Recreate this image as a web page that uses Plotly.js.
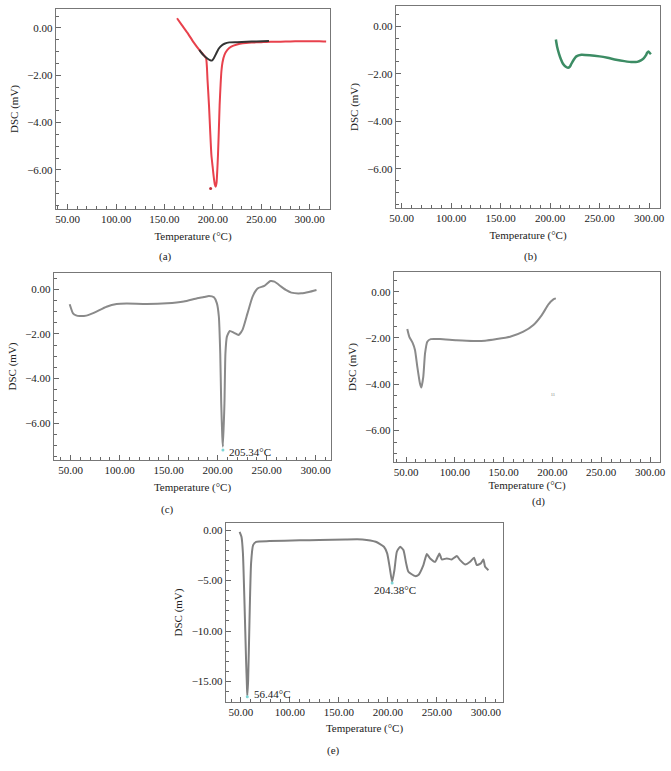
<!DOCTYPE html>
<html>
<head>
<meta charset="utf-8">
<script src="https://cdn.plot.ly/plotly-3.0.1.min.js"></script>
<style>
  html, body { margin: 0; padding: 0; background: #fff; }
  #dsc { width: 671px; height: 771px; }
</style>
</head>
<body>
<div id="dsc"></div>
<script>
// (a) two runs, red and black
const aRedT = [163, 168, 174, 180, 186, 190, 193, 194.5, 196, 197.3, 198.5, 200, 201.1, 202, 202.9, 203.8, 204.6, 205.3, 206.2, 207, 208, 208.8, 210, 212, 215, 219, 225, 231, 240, 250, 260, 270, 280, 290, 300, 310, 317];
const aRedV = [0.41, 0.12, -0.22, -0.6, -0.93, -1.12, -1.28, -2.2, -3.26, -4.4, -5.37, -5.95, -6.36, -6.6, -6.71, -6.55, -6.0, -5.37, -4.3, -3.26, -2.4, -1.85, -1.45, -1.14, -0.93, -0.79, -0.7, -0.65, -0.62, -0.6, -0.58, -0.58, -0.57, -0.56, -0.56, -0.56, -0.57];
const aBlkT = [186, 190, 194, 197, 199, 201, 203.6, 206, 208.8, 212, 217, 225, 235, 245, 258];
const aBlkV = [-0.93, -1.14, -1.28, -1.36, -1.38, -1.28, -1.07, -0.88, -0.75, -0.67, -0.61, -0.6, -0.58, -0.57, -0.55];
const aDotT = [197.7];
const aDotV = [-6.78];

// (b)
const bT = [205.8, 207, 209, 211, 213, 215.5, 218, 220, 221.5, 224, 226.5, 231.5, 240, 250, 258, 266.6, 275, 283.3, 288, 291.7, 294.5, 296.7, 298, 299.4, 300.5, 301.8];
const bV = [-0.56, -0.85, -1.16, -1.4, -1.58, -1.7, -1.75, -1.7, -1.58, -1.4, -1.27, -1.2, -1.22, -1.27, -1.33, -1.41, -1.47, -1.51, -1.5, -1.44, -1.35, -1.23, -1.12, -1.06, -1.12, -1.18];

// (c)
const cT = [49, 52.4, 55.5, 59.2, 66, 71, 76.3, 86.6, 96.9, 107.1, 127.7, 148.3, 165.4, 179.1, 186, 191.1, 196.2, 199.2, 201.2, 202.6, 203.6, 204.7, 205.34, 206.9, 207.9, 209.4, 212.3, 216.7, 221.2, 225.3, 230.4, 235.6, 240.7, 247.6, 253.8, 257.9, 264.8, 270, 275.1, 285.4, 293, 300.8];
const cV = [-0.67, -1.08, -1.17, -1.2, -1.18, -1.1, -1.0, -0.78, -0.66, -0.64, -0.66, -0.63, -0.55, -0.4, -0.35, -0.3, -0.36, -0.63, -1.23, -2.87, -5.11, -6.61, -7.06, -5.11, -2.87, -2.12, -1.87, -1.95, -2.05, -1.82, -1.08, -0.33, 0.04, 0.15, 0.37, 0.34, 0.12, -0.04, -0.15, -0.18, -0.12, -0.03];
const cPeakT = [205.34];
const cPeakV = [-7.2];

// (d)
const dT = [51.3, 53.4, 56.8, 59.2, 61.6, 64.3, 65.7, 67.7, 69.5, 71.8, 75.3, 84.8, 101.9, 119, 131, 143, 156.6, 170.2, 180.5, 189.1, 195.9, 201, 203.5];
const dV = [-1.61, -1.95, -2.21, -2.52, -3.25, -3.97, -4.14, -3.68, -2.67, -2.16, -2.05, -2.05, -2.1, -2.13, -2.12, -2.05, -1.95, -1.73, -1.44, -1.01, -0.55, -0.33, -0.29];

// (e)
const eT = [48.6, 50.5, 52, 53.6, 55.2, 56.1, 56.44, 57.3, 58.7, 60.3, 62.4, 65.5, 79, 110, 130, 157, 174, 187.6, 196, 199.3, 201.8, 204.38, 206.7, 209.2, 212.6, 215.9, 218.7, 221, 227.9, 231.2, 236.3, 239.8, 243.2, 248.3, 252.7, 255.1, 260.2, 265.3, 270.4, 273.8, 278.9, 284, 288, 290.8, 294.9, 297.6, 299.3, 302.7];
const eV = [-0.17, -0.66, -2.31, -7.27, -12.9, -15.5, -16.4, -14.9, -8.93, -3.3, -1.49, -1.16, -1.09, -1.02, -0.99, -0.93, -0.93, -1.16, -1.65, -2.31, -3.64, -5.13, -3.97, -2.15, -1.65, -1.98, -3.3, -4.13, -4.56, -4.46, -3.47, -2.38, -2.81, -3.14, -2.31, -2.91, -2.81, -2.91, -2.58, -2.98, -3.41, -3.14, -2.74, -3.47, -3.3, -2.91, -3.64, -3.97];
const ePeakT = [56.44, 204.38];
const ePeakV = [-16.5, -5.25];

const W = 671, H = 771;
const serif = '"Liberation Serif", "DejaVu Serif", serif';
const txt = { family: serif, size: 11, color: '#222' };

// pixel box -> paper domain
function dx(l, r) { return [l / W, r / W]; }
function dy(t, b) { return [1 - b / H, 1 - t / H]; }

function xAxis(dom, range, anchor, standoff) {
    return {
        domain: dom, range: range, anchor: anchor,
        tick0: 50, dtick: 50, tickformat: '.2f',
        ticks: 'inside', ticklen: 5, tickcolor: '#666', tickwidth: 1,
        minor: { dtick: 10, ticks: 'inside', ticklen: 3, tickcolor: '#666' },
        showline: true, linecolor: '#777', linewidth: 1.2, mirror: true,
        showgrid: false, zeroline: false, tickfont: txt,
        title: { text: 'Temperature (°C)', font: txt, standoff: standoff }
    };
}

function yAxis(dom, range, anchor, step, minorStep) {
    return {
        domain: dom, range: range, anchor: anchor,
        tick0: 0, dtick: step, tickformat: '.2f',
        ticks: 'inside', ticklen: 5, tickcolor: '#666', tickwidth: 1,
        minor: { dtick: minorStep, ticks: 'inside', ticklen: 3, tickcolor: '#666' },
        showline: true, linecolor: '#777', linewidth: 1.2, mirror: true,
        showgrid: false, zeroline: false, tickfont: txt,
        title: { text: 'DSC (mV)', font: txt, standoff: 6 }
    };
}

function curve(x, y, xa, ya, color, width) {
    return {
        x: x, y: y, xaxis: xa, yaxis: ya, type: 'scatter', mode: 'lines',
        line: { color: color, width: width, shape: 'spline', smoothing: 0.5 },
        hoverinfo: 'skip'
    };
}

function dots(x, y, xa, ya, color) {
    return {
        x: x, y: y, xaxis: xa, yaxis: ya, type: 'scatter', mode: 'markers',
        marker: { color: color, size: 3 }, hoverinfo: 'skip'
    };
}

const gray = '#8a8a8a';

const data = [
    curve(aRedT, aRedV, 'x', 'y', '#e8414c', 2),
    curve(aBlkT, aBlkV, 'x', 'y', '#333333', 2),
    dots(aDotT, aDotV, 'x', 'y', '#c0303a'),
    curve(bT, bV, 'x2', 'y2', '#3c8c64', 2.5),
    curve(cT, cV, 'x3', 'y3', gray, 2),
    dots(cPeakT, cPeakV, 'x3', 'y3', '#7fd6d6'),
    curve(dT, dV, 'x4', 'y4', gray, 2),
    curve(eT, eV, 'x5', 'y5', '#808080', 2),
    dots(ePeakT, ePeakV, 'x5', 'y5', '#7fd6d6')
];

function panelLabel(text, px, py) {
    return { text: text, xref: 'paper', yref: 'paper', x: px / W, y: 1 - py / H,
             showarrow: false, font: txt, xanchor: 'center', yanchor: 'middle' };
}

const layout = {
    width: W, height: H, autosize: false,
    margin: { l: 0, r: 0, t: 0, b: 0 },
    paper_bgcolor: '#fff', plot_bgcolor: '#fff',
    showlegend: false,
    font: txt,
    xaxis: xAxis(dx(56, 330), [38, 321], 'y', 7),
    yaxis: yAxis(dy(9, 209), [-7.65, 0.8], 'x', 2, 0.5),
    xaxis2: xAxis(dx(396, 660), [44.3, 311], 'y2', 7),
    yaxis2: yAxis(dy(6, 208), [-7.65, 0.85], 'x2', 2, 0.5),
    xaxis3: xAxis(dx(54, 331), [33, 315.6], 'y3', 7),
    yaxis3: yAxis(dy(273, 460), [-7.65, 0.73], 'x3', 2, 0.5),
    xaxis4: xAxis(dx(394, 660), [37.7, 310.2], 'y4', 3),
    yaxis4: yAxis(dy(272, 462), [-7.36, 0.85], 'x4', 2, 0.5),
    xaxis5: xAxis(dx(226, 503), [34.7, 317.6], 'y5', 6),
    yaxis5: yAxis(dy(523, 702), [-17.03, 0.7], 'x5', 5, 1),
    annotations: [
        panelLabel('(a)', 165, 257),
        panelLabel('(b)', 530, 257),
        panelLabel('(c)', 167, 509),
        panelLabel('(d)', 538, 501),
        panelLabel('(e)', 333, 750),
        { text: '205.34°C', xref: 'x3', yref: 'y3', x: 209.5, y: -7.28,
          xanchor: 'left', yanchor: 'middle', showarrow: false, font: txt },
        { text: '204.38°C', xref: 'x5', yref: 'y5', x: 207.4, y: -5.95,
          xanchor: 'center', yanchor: 'middle', showarrow: false, font: txt },
        { text: '56.44°C', xref: 'x5', yref: 'y5', x: 61.5, y: -16.2,
          xanchor: 'left', yanchor: 'middle', showarrow: false, font: txt },
        { text: 'ıı', xref: 'x4', yref: 'y4', x: 201, y: -4.4,
          xanchor: 'center', yanchor: 'middle', showarrow: false,
          font: { family: serif, size: 7, color: '#aaa' } }
    ]
};

Plotly.newPlot('dsc', data, layout, { displayModeBar: false, staticPlot: true });
</script>
</body>
</html>
